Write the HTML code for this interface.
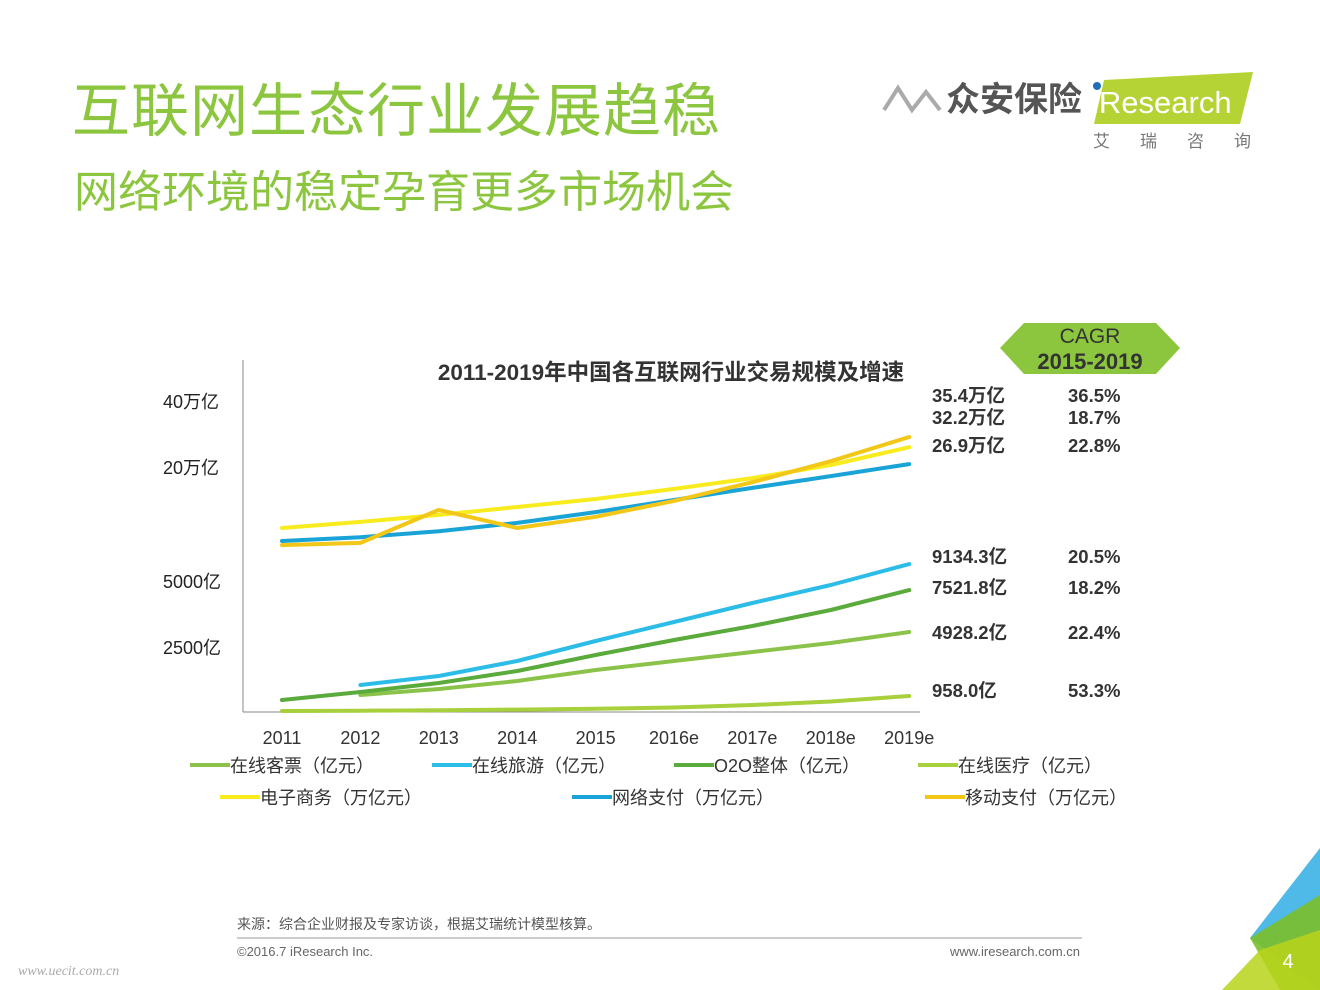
<!DOCTYPE html>
<html><head><meta charset="utf-8">
<style>
body{margin:0;width:1320px;height:990px;overflow:hidden;background:#fff;font-family:"Liberation Sans","Noto Sans CJK SC",sans-serif;position:relative}
.abs{position:absolute;white-space:nowrap}
.t1{left:72px;top:64px;font-size:58px;color:#8cc63f;letter-spacing:1px}
.t2{left:74px;top:156px;font-size:44px;color:#8cc63f}
</style></head><body>
<div class="abs t1">互联网生态行业发展趋稳</div>
<div class="abs t2">网络环境的稳定孕育更多市场机会</div>
<svg class="abs" style="left:0;top:0" width="1320" height="990">
  <g>
    <polyline points="884,110 898,88 912,110 926,92 940,110" fill="none" stroke="#aaa" stroke-width="4"/>
    <text x="946" y="111" font-size="34" font-weight="bold" fill="#555">众安保险</text>
    <circle cx="1097" cy="86" r="4" fill="#1e6fb5"/>
    <polygon points="1104,80 1253,72 1240,124 1094,124" fill="#b5d334"/>
    <text x="1092" y="113" font-size="31" fill="#fff" font-family="Liberation Sans">iResearch</text>
    <text x="1093" y="147" font-size="17" fill="#777" letter-spacing="30">艾瑞咨询</text>
  </g>
  <g>
    <polygon points="1024,323 1156,323 1180,348 1156,374 1024,374 1000,348" fill="#8cc63f"/>
    <text x="1090" y="343" font-size="21" fill="#333" text-anchor="middle">CAGR</text>
    <text x="1090" y="369" font-size="22" font-weight="bold" fill="#333" text-anchor="middle">2015-2019</text>
  </g>
  <text x="671" y="380" font-size="22.5" font-weight="bold" fill="#333" text-anchor="middle">2011-2019年中国各互联网行业交易规模及增速</text>
  <line x1="243" y1="360" x2="243" y2="712" stroke="#888" stroke-width="1"/>
  <line x1="243" y1="712" x2="920" y2="712" stroke="#888" stroke-width="1"/>
  <g id="ylabels"></g><g id="series"></g><g id="xlabels"></g><g id="rightvals"></g><g id="legend"></g>
  <g>
    <polygon points="1320,848 1250,938 1320,990" fill="#4fb9e8"/>
    <polygon points="1320,895 1250,938 1280,990 1320,990" fill="#7bbf2a" opacity="0.9"/>
    <polygon points="1222,990 1260,950 1320,930 1320,990" fill="#b8d41a" opacity="0.85"/>
    <text x="1288" y="968" font-size="20" fill="#fff" text-anchor="middle">4</text>
  </g>
  <text x="237" y="929" font-size="14" fill="#555">来源：综合企业财报及专家访谈，根据艾瑞统计模型核算。</text>
  <line x1="237" y1="938" x2="1082" y2="938" stroke="#999" stroke-width="1"/>
  <text x="237" y="956" font-size="13" fill="#666">©2016.7 iResearch Inc.</text>
  <text x="1080" y="956" font-size="13" fill="#666" text-anchor="end">www.iresearch.com.cn</text>
  <text x="18" y="975" font-size="14" fill="#aaa" font-style="italic" font-family="Liberation Serif">www.uecit.com.cn</text>
</svg>
<script>
const years=["2011","2012","2013","2014","2015","2016e","2017e","2018e","2019e"];
const ecommerce=[6.8,8.7,10.9,13.4,15.9,19.1,22.5,26.6,32.2];
const netpay=[2.7,3.9,5.8,8.4,11.8,15.6,19.4,23.1,26.9];
const mobilepay=[1.4,2.1,12.5,6.8,10.3,15.3,21.2,27.8,35.4];
const travel=[null,1642,2199,3129,4368,5545,6722,7838,9134.3];
const o2o=[712,1208,1766,2509,3501,4430,5297,6288,7521.8];
const ticket=[null,1022,1394,1890,2571,3129,3687,4244,4928.2];
const medical=[30,50,80,120,170,250,400,620,958.0];
const endLabels=["35.4万亿","32.2万亿","26.9万亿","9134.3亿","7521.8亿","4928.2亿","958.0亿"];
const cagrs=["36.5%","18.7%","22.8%","20.5%","18.2%","22.4%","53.3%"];
const yTickLabels=["40万亿","20万亿","5000亿","2500亿"];

const NS="http://www.w3.org/2000/svg";
function xs(i){return 282+i*78.4;}
function yUpper(v){return 549.6-v*3.18;}
function yLower(v){return 711.5-v*0.01614;}
function mk(tag,attrs,parent){const e=document.createElementNS(NS,tag);for(const k in attrs)e.setAttribute(k,attrs[k]);parent.appendChild(e);return e;}

const yl=document.getElementById('ylabels');
const yPos=[402,468,582,648];
yTickLabels.forEach((t,i)=>{const e=mk('text',{x:163,y:yPos[i]+6,'font-size':18,fill:'#222'},yl);e.textContent=t;

});

const sg=document.getElementById('series');
const defs=[[medical,'#a8cf3c',yLower,'medical-line'],[ticket,'#8bc34a',yLower,'ticket-line'],[o2o,'#5aaa3c',yLower,'o2o-line'],[travel,'#2cbce8',yLower,'travel-line'],[netpay,'#1aa3d6',yUpper,'netpay-line'],[ecommerce,'#f8ec1e',yUpper,'ecommerce-line'],[mobilepay,'#f2c718',yUpper,'mobilepay-line']];
defs.forEach(d=>{const pts=[];d[0].forEach((v,i)=>{if(v!==null)pts.push(xs(i).toFixed(1)+','+d[2](v).toFixed(1));});
const p=mk('polyline',{points:pts.join(' '),fill:'none',stroke:d[1],'stroke-width':4,'stroke-linecap':'round','stroke-linejoin':'round'},sg);

});

const xl=document.getElementById('xlabels');
years.forEach((y,i)=>{const e=mk('text',{x:xs(i),y:744,'font-size':18,fill:'#333','text-anchor':'middle'},xl);e.textContent=y;

});

const rv=document.getElementById('rightvals');
const ry=[396,418,446,557,588,633,691];
endLabels.forEach((t,i)=>{const a=mk('text',{x:932,y:ry[i]+6,'font-size':18.5,'font-weight':'bold',fill:'#333'},rv);a.textContent=t;


const b=mk('text',{x:1068,y:ry[i]+6,'font-size':18.5,'font-weight':'bold',fill:'#333'},rv);b.textContent=cagrs[i];

});

const lg=document.getElementById('legend');
const leg=[["在线客票（亿元）",'#8bc34a',190,765],["在线旅游（亿元）",'#2cbce8',432,765],["O2O整体（亿元）",'#5aaa3c',674,765],["在线医疗（亿元）",'#a8cf3c',918,765],["电子商务（万亿元）",'#f8ec1e',220,797],["网络支付（万亿元）",'#1aa3d6',572,797],["移动支付（万亿元）",'#f2c718',925,797]];
leg.forEach(l=>{const g=mk('g',{},lg);


mk('line',{x1:l[2],y1:l[3],x2:l[2]+40,y2:l[3],stroke:l[1],'stroke-width':4},g);
const t=mk('text',{x:l[2]+40,y:l[3]+7,'font-size':18,fill:'#333'},g);t.textContent=l[0];});
</script>
</body></html>
